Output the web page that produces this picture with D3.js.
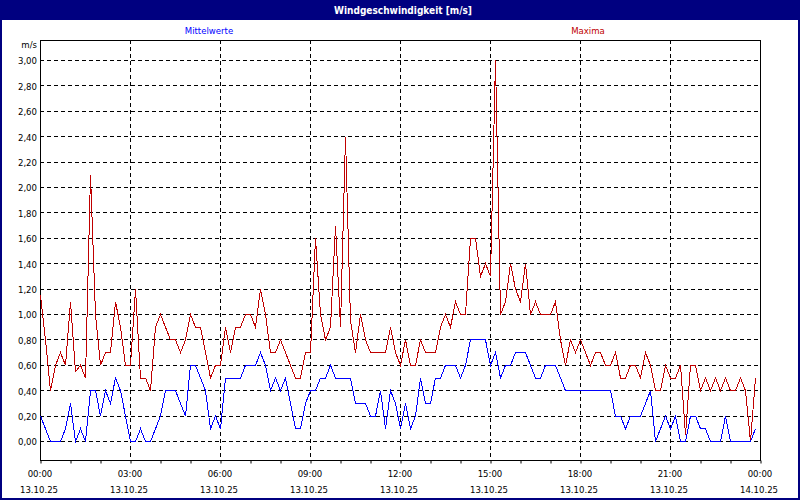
<!DOCTYPE html>
<html><head><meta charset="utf-8">
<script src="https://cdn.jsdelivr.net/npm/d3@7"></script>
<style>
body{margin:0;background:#fff}
svg{display:block}
text{font-family:"DejaVu Sans Condensed","DejaVu Sans",sans-serif;font-size:9.5px}
</style>
</head><body>
<svg id="c" width="800" height="500"></svg>
<script>
const chartTitle = "Windgeschwindigkeit [m/s]";
const seriesNames = ["Mittelwerte", "Maxima"];
const unitLabel = "m/s";
const timeLabels = ["00:00","03:00","06:00","09:00","12:00","15:00","18:00","21:00","00:00"];
const dateLabels = ["13.10.25","13.10.25","13.10.25","13.10.25","13.10.25","13.10.25","13.10.25","13.10.25","14.10.25"];
const yTickValues = [0,0.2,0.4,0.6,0.8,1.0,1.2,1.4,1.6,1.8,2.0,2.2,2.4,2.6,2.8,3.0];
const stepMinutes = 10;

// Maxima (m/s), one value per 10 minutes from 00:00
const maxima = [
 1.15,0.8,0.4,0.6,0.7,0.6,1.1,0.55,0.6,0.5,
 2.1,1.0,0.6,0.7,0.7,1.1,0.9,0.6,0.6,1.2,
 0.5,0.5,0.4,0.9,1.0,0.9,0.8,0.8,0.7,0.8,
 1.0,0.9,0.9,0.7,0.5,0.6,0.6,0.9,0.7,0.9,
 0.9,1.0,1.0,0.9,1.2,1.0,0.7,0.7,0.8,0.7,
 0.6,0.5,0.5,0.7,0.7,1.6,1.0,0.8,0.9,1.7,
 0.9,2.4,0.95,0.7,1.0,0.8,0.7,0.7,0.7,0.7,
 0.9,0.7,0.6,0.8,0.6,0.6,0.8,0.7,0.7,0.7,
 0.9,1.0,0.9,1.1,1.0,1.0,1.6,1.6,1.3,1.4,
 1.3,3.0,1.0,1.1,1.4,1.2,1.1,1.4,1.0,1.1,
 1.0,1.0,1.0,1.1,0.8,0.6,0.8,0.7,0.8,0.7,
 0.6,0.7,0.7,0.6,0.6,0.7,0.5,0.5,0.6,0.6,
 0.5,0.7,0.6,0.4,0.4,0.6,0.5,0.5,0.6,0.05,
 0.6,0.6,0.4,0.5,0.4,0.5,0.4,0.5,0.4,0.4,
 0.5,0.4,0.0,0.5
];

// Mittelwerte (m/s), one value per 10 minutes from 00:00
const mittelwerte = [
 0.2,0.1,0.0,0.0,0.0,0.1,0.3,0.0,0.1,0.0,
 0.4,0.4,0.2,0.4,0.3,0.5,0.4,0.2,0.0,0.0,
 0.1,0.0,0.0,0.1,0.2,0.4,0.4,0.4,0.3,0.2,
 0.6,0.6,0.5,0.4,0.1,0.2,0.1,0.5,0.5,0.5,
 0.5,0.6,0.6,0.6,0.7,0.6,0.4,0.5,0.4,0.5,
 0.3,0.1,0.1,0.3,0.4,0.4,0.5,0.5,0.6,0.5,
 0.5,0.5,0.5,0.3,0.3,0.3,0.2,0.2,0.4,0.1,
 0.4,0.3,0.1,0.3,0.1,0.2,0.5,0.3,0.3,0.5,
 0.5,0.6,0.6,0.6,0.5,0.6,0.8,0.8,0.8,0.8,
 0.6,0.7,0.5,0.6,0.6,0.7,0.7,0.7,0.6,0.5,
 0.5,0.6,0.6,0.6,0.5,0.4,0.4,0.4,0.4,0.4,
 0.4,0.4,0.4,0.4,0.4,0.2,0.2,0.1,0.2,0.2,
 0.2,0.3,0.4,0.0,0.1,0.2,0.1,0.2,0.0,0.0,
 0.2,0.2,0.1,0.1,0.0,0.0,0.0,0.2,0.0,0.0,
 0.0,0.0,0.0,0.1
];

const W = 800, H = 500;
const plot = {left: 40, right: 760, top: 40, bottom: 460};
const navy = "#000080", red = "#C00000", blue = "#0000FF";

const svg = d3.select("#c");
const x = d3.scaleLinear().domain([0, 24]).range([plot.left, plot.right]);
const y = d3.scaleLinear().domain([0, 3]).range([441.5, 60.5]);
const fmt = d3.formatLocale({decimal: ",", thousands: ".", grouping: [3], currency: ["", "€"]}).format(".2f");

// background
svg.append("rect").attr("x",0).attr("y",0).attr("width",W).attr("height",H).attr("fill","#fff");
// title bar
svg.append("rect").attr("x",0).attr("y",0).attr("width",W).attr("height",20).attr("fill",navy);
svg.append("text").attr("x",403).attr("y",13.5).attr("text-anchor","middle")
  .attr("fill","#fff").attr("font-weight","bold").style("font-size","10px").text(chartTitle);
// outer border
svg.append("rect").attr("x",1).attr("y",1).attr("width",W-2).attr("height",H-2)
  .attr("fill","none").attr("stroke",navy).attr("stroke-width",2);

// legend labels
svg.append("text").attr("x",209).attr("y",34).attr("text-anchor","middle").attr("fill",blue).text(seriesNames[0]);
svg.append("text").attr("x",588).attr("y",34).attr("text-anchor","middle").attr("fill",red).text(seriesNames[1]);
// unit
svg.append("text").attr("x",37).attr("y",48).attr("text-anchor","end").attr("fill","#000").text(unitLabel);

// horizontal grid
svg.append("g").selectAll("line").data(yTickValues).join("line")
  .attr("x1",plot.left).attr("x2",plot.right)
  .attr("y1",d=>Math.floor(y(d))+0.5).attr("y2",d=>Math.floor(y(d))+0.5)
  .attr("stroke","#000").attr("stroke-dasharray","4,3");
// vertical grid every 3 hours
const gridHours = d3.range(3, 24, 3);
svg.append("g").selectAll("line").data(gridHours).join("line")
  .attr("x1",d=>x(d)+0.5).attr("x2",d=>x(d)+0.5)
  .attr("y1",plot.top).attr("y2",plot.bottom)
  .attr("stroke","#000").attr("stroke-dasharray","4,3");

// plot frame
svg.append("rect").attr("x",plot.left+0.5).attr("y",plot.top+0.5)
  .attr("width",plot.right-plot.left).attr("height",plot.bottom-plot.top)
  .attr("fill","none").attr("stroke","#000").attr("stroke-width",1);

// y axis labels
const yAxis = d3.axisLeft(y).tickValues(yTickValues).tickFormat(fmt).tickSize(0).tickPadding(0);
const gy = svg.append("g").attr("transform",`translate(37,0)`).call(yAxis);
gy.select(".domain").remove();
gy.selectAll("text").attr("fill","#000").style("font-size","9.5px").attr("dy","0.35em");

// x axis: hourly ticks
const xAxis = d3.axisBottom(x).tickValues(d3.range(0, 25, 1)).tickSize(3).tickFormat("");
const gx = svg.append("g").attr("transform",`translate(0.5,${plot.bottom+0.5})`).call(xAxis);
gx.select(".domain").remove();
gx.selectAll(".tick line").attr("stroke","#000");

// x labels every 3 hours
const labelHours = d3.range(0, 25, 3);
svg.append("g").selectAll("text.t").data(labelHours).join("text").attr("class","t")
  .attr("x",d=>x(d)).attr("y",477).attr("text-anchor","middle").attr("fill","#000")
  .text((d,i)=>timeLabels[i]);
svg.append("g").selectAll("text.d").data(labelHours).join("text").attr("class","d")
  .attr("x",d=>x(d)-1).attr("y",493).attr("text-anchor","middle").attr("fill","#000")
  .text((d,i)=>dateLabels[i]);

// lines
const line = d3.line().x((d,i)=>x(i*stepMinutes/60)+0.5).y(d=>y(d));
svg.append("path").datum(maxima).attr("d",line).attr("fill","none")
  .attr("stroke",red).attr("stroke-width",1).attr("shape-rendering","crispEdges");
svg.append("path").datum(mittelwerte).attr("d",line).attr("fill","none")
  .attr("stroke",blue).attr("stroke-width",1).attr("shape-rendering","crispEdges");
</script>
</body></html>
